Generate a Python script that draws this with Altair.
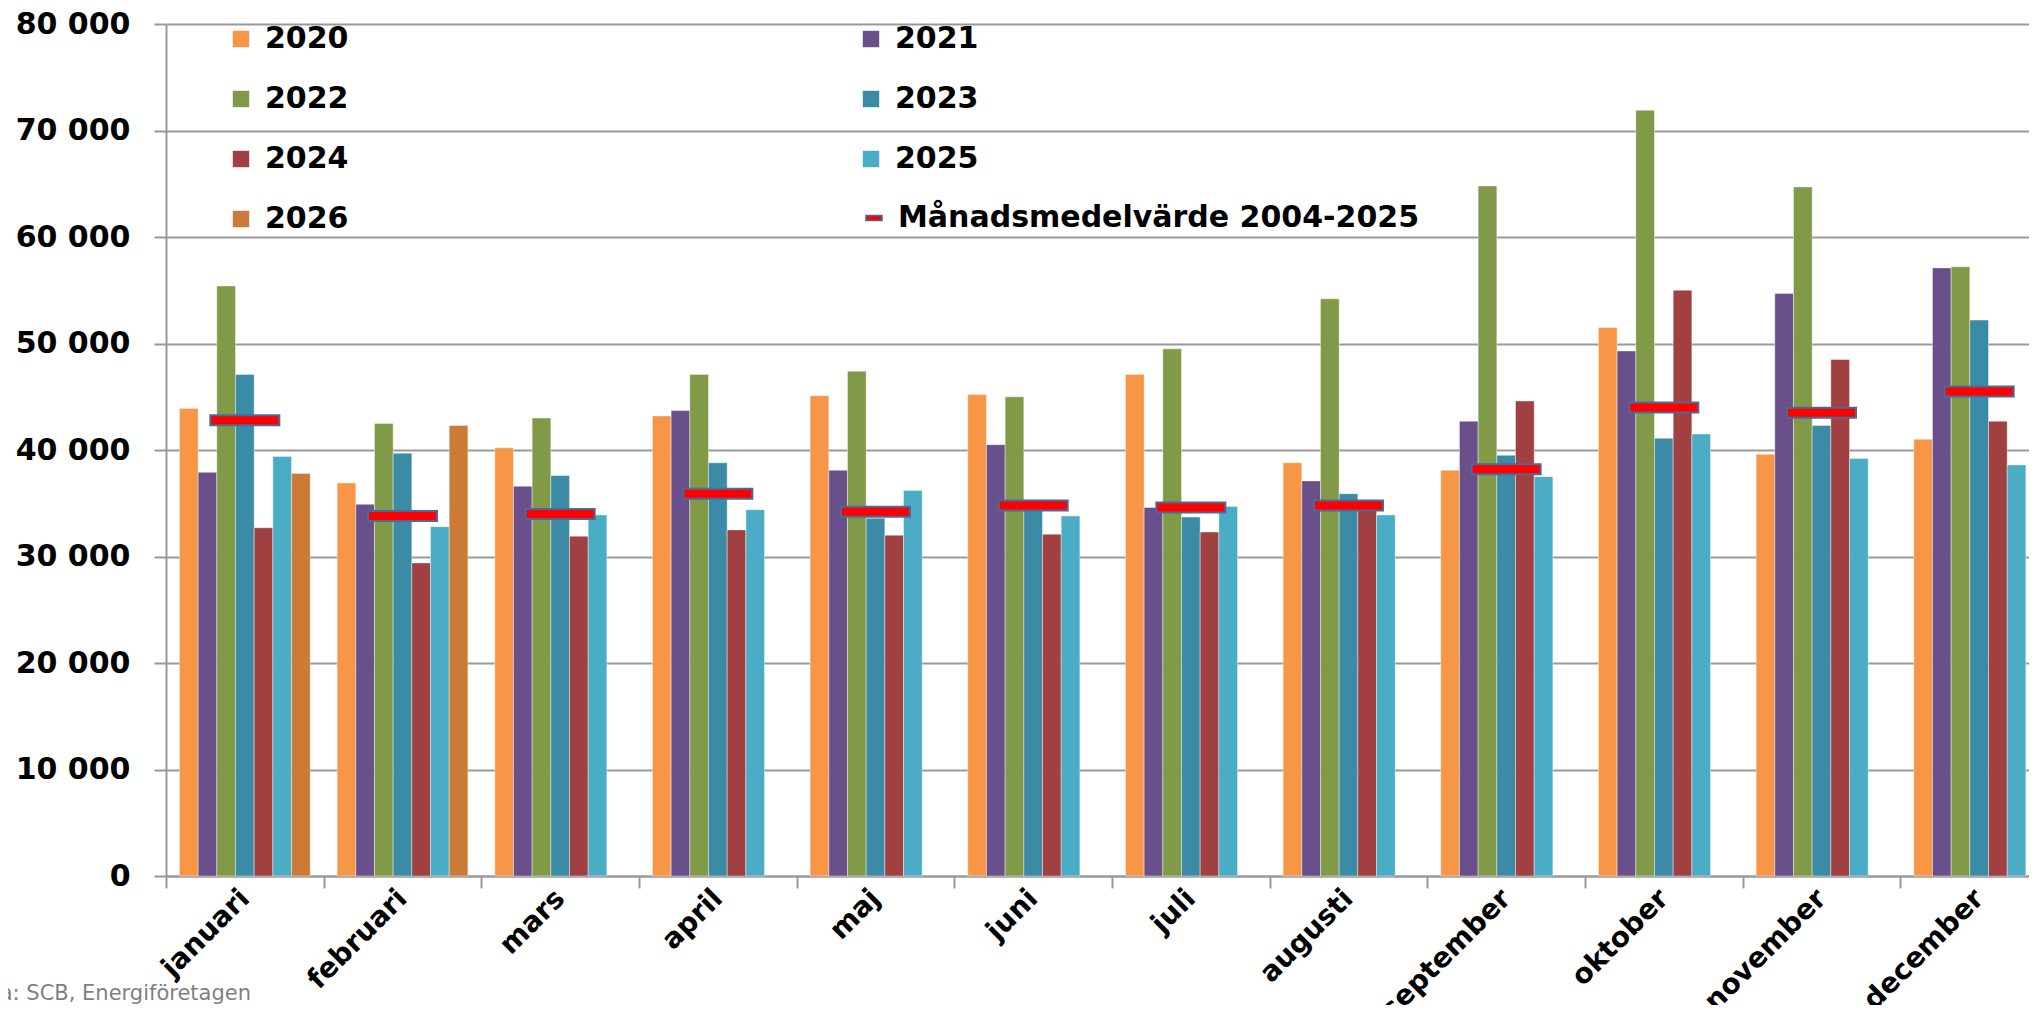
import altair as alt
import pandas as pd

months = ["januari", "februari", "mars", "april", "maj", "juni", "juli",
          "augusti", "september", "oktober", "november", "december"]
years = ["2020", "2021", "2022", "2023", "2024", "2025", "2026"]

v2020 = [43900, 36900, 40200, 43200, 45100, 45200, 47100, 38800, 38100, 51500, 39600, 41000]
v2021 = [37900, 34900, 36600, 43700, 38100, 40500, 34600, 37100, 42700, 49300, 54700, 57100]
v2022 = [55400, 42500, 43000, 47100, 47400, 45000, 49500, 54200, 64800, 71900, 64700, 57200]
v2023 = [47100, 39700, 37600, 38800, 33600, 34500, 33700, 35900, 39500, 41100, 42300, 52200]
v2024 = [32700, 29400, 31900, 32500, 32000, 32100, 32300, 35300, 44600, 55000, 48500, 42700]
v2025 = [39400, 32800, 33900, 34400, 36200, 33800, 34700, 33900, 37500, 41500, 39200, 38600]
v2026 = [37800, 42300]
mean_label = "Månadsmedelvärde 2004-2025"
mean_2004_2025 = [42800, 33800, 34000, 35900, 34200, 34800, 34600, 34800, 38200, 44000, 43500, 45500]

colors = ["#F79646", "#69508A", "#809A48", "#3C8BA6", "#A04040", "#4BACC6", "#CB7A38"]
source_text = "Källa: SCB, Energiföretagen"

series = [v2020, v2021, v2022, v2023, v2024, v2025, v2026]
rows = []
for yr, vals in zip(years, series):
    for m, v in zip(months, vals):
        rows.append({"month": m, "year": yr, "value": v})
df = pd.DataFrame(rows)
dfm = pd.DataFrame({"month": months, "value": mean_2004_2025, "series": [mean_label] * 12})

FONT = "DejaVu Sans"
GRAY = "#999999"

x_enc = alt.X(
    "month:N", sort=months,
    scale=alt.Scale(domain=months, range=[0, 1892], paddingInner=0, paddingOuter=0),
    axis=alt.Axis(title=None, labelAngle=315, labelAlign="right", labelBaseline="middle",
                  labelFont=FONT, labelFontWeight="bold", labelFontSize=28, labelColor="black",
                  tickBand="extent", tickSize=12, tickColor=GRAY, tickWidth=2,
                  domainColor=GRAY, domainWidth=2, labelPadding=6, grid=False,
                  labelOverlap=False, labelBound=False, labelFlush=False),
)
y_enc = alt.Y(
    "value:Q", scale=alt.Scale(domain=[0, 80000], nice=False),
    axis=alt.Axis(title=None, values=list(range(0, 80001, 10000)),
                  labelExpr="replace(format(datum.value, ','), ',', ' ')",
                  labelFont=FONT, labelFontWeight="bold", labelFontSize=30, labelColor="black",
                  tickSize=12, tickColor=GRAY, tickWidth=2, domainColor=GRAY, domainWidth=2,
                  labelPadding=24, grid=True, gridColor=GRAY, gridWidth=2),
)

bars = alt.Chart(df).mark_bar(opacity=1, stroke="#ffffff", strokeWidth=0.8, strokeOpacity=0.5).encode(
    x=x_enc,
    xOffset=alt.XOffset("year:N", scale=alt.Scale(domain=years, paddingInner=0, paddingOuter=0.72)),
    y=y_enc,
    color=alt.Color("year:N", scale=alt.Scale(domain=years, range=colors),
                    legend=alt.Legend(title=None, orient="none", legendX=60, legendY=0, columns=2,
                                      direction="horizontal",
                                      symbolType="square", symbolSize=270, symbolStrokeWidth=0,
                                      labelFont=FONT, labelFontWeight="bold", labelFontSize=30,
                                      labelColor="black", labelOffset=9, rowPadding=30,
                                      columnPadding=507, padding=0, labelLimit=0)),
)

mean = alt.Chart(dfm).mark_tick(thickness=10, size=69, stroke="#4a6a98", strokeWidth=2, opacity=1).encode(
    x=alt.X("month:N", sort=months),
    y=alt.Y("value:Q"),
    fill=alt.Fill("series:N", scale=alt.Scale(domain=[mean_label], range=["#ff0000"]),
                  legend=alt.Legend(title=None, orient="none", legendX=693, legendY=179,
                                    symbolType="M-1,-0.3H1V0.3H-1Z", symbolSize=256,
                                    symbolStrokeColor="#4a6a98", symbolStrokeWidth=1.5,
                                    labelFont=FONT, labelFontWeight="bold", labelFontSize=30,
                                    labelColor="black", labelOffset=9, padding=0, labelLimit=0)),
)

src = alt.Chart(pd.DataFrame({"t": [source_text]})).mark_text(
    align="right", baseline="alphabetic", font=FONT, fontSize=21, color="#7f7f7f"
).encode(x=alt.value(85), y=alt.value(976), text="t:N")

chart = alt.layer(bars, mean, src).resolve_scale(fill="independent", color="independent").properties(
    width=1863, height=852,
    autosize=alt.AutoSizeParams(type="none"),
    padding={"left": 158, "top": 16, "right": 0, "bottom": 129},
).configure_view(stroke=None)

chart.save("out.html", embed_options={"renderer": "svg", "actions": False})
